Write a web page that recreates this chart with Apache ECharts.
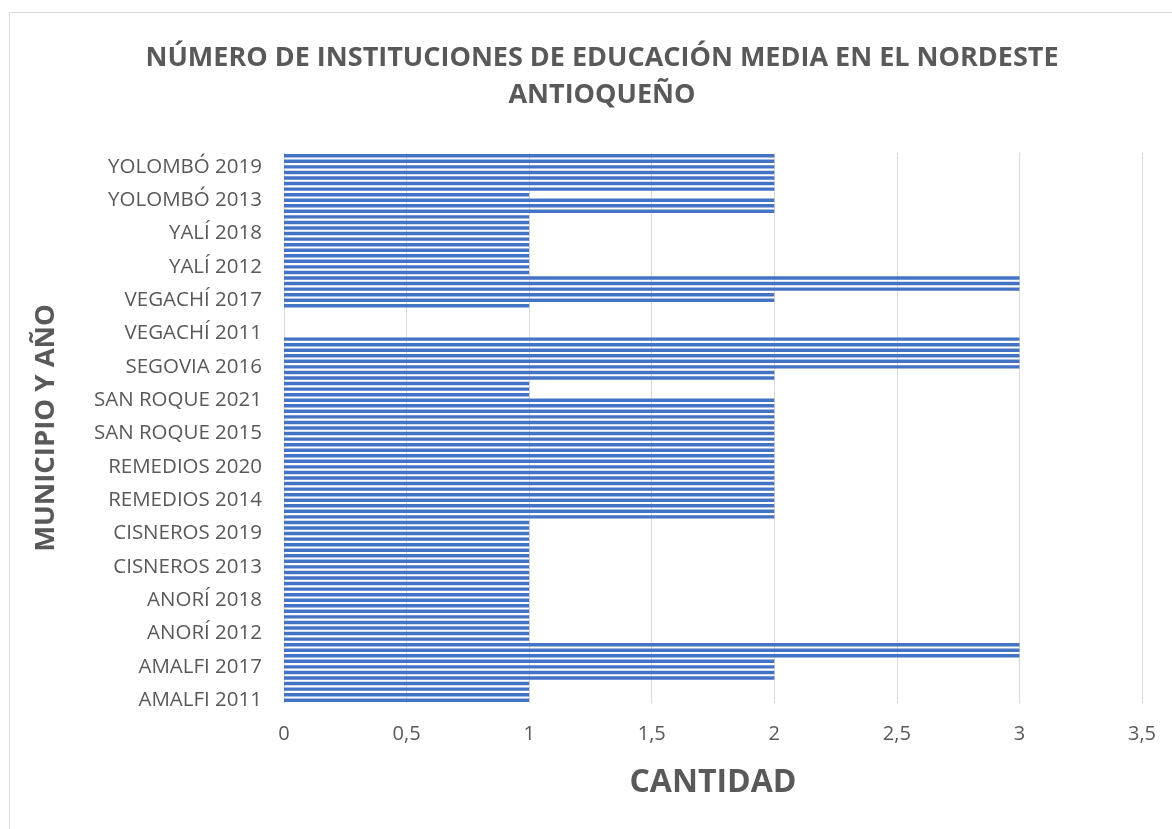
<!DOCTYPE html>
<html>
<head>
<meta charset="utf-8">
<script src="https://cdn.jsdelivr.net/npm/echarts@6/dist/echarts.min.js"></script>
<style>
  html, body { margin: 0; padding: 0; background: #ffffff; }
  #chart { position: relative; width: 1172px; height: 829px; }
  #frame { position: absolute; left: 9px; top: 12px; width: 1200px; height: 900px;
           border: 1px solid #d9d9d9; box-sizing: border-box; pointer-events: none; }
</style>
</head>
<body>
<div id="chart"></div>
<script>
// Municipios del Nordeste antioqueño y años del registro
const municipios = ['AMALFI', 'ANORÍ', 'CISNEROS', 'REMEDIOS', 'SAN ROQUE',
                    'SEGOVIA', 'VEGACHÍ', 'YALÍ', 'YOLOMBÓ'];
const anios = [2011, 2012, 2013, 2014, 2015, 2016, 2017, 2018, 2019, 2020, 2021];

// Número de instituciones de educación media por año (2011–2021)
const amalfi   = [1, 1, 1, 1, 2, 2, 2, 2, 3, 3, 3];
const anori    = [1, 1, 1, 1, 1, 1, 1, 1, 1, 1, 1];
const cisneros = [1, 1, 1, 1, 1, 1, 1, 1, 1, 1, 1];
const remedios = [2, 2, 2, 2, 2, 2, 2, 2, 2, 2, 2];
const sanRoque = [2, 2, 2, 2, 2, 2, 2, 2, 2, 2, 2];
const segovia  = [1, 1, 1, 2, 2, 3, 3, 3, 3, 3, 3];
const vegachi  = [0, 0, 0, 0, 0, 1, 2, 2, 3, 3, 3];
const yali     = [1, 1, 1, 1, 1, 1, 1, 1, 1, 1, 1];
const yolombo  = [2, 2, 2, 1, 2, 2, 2, 2, 2, 2, 2];

const valoresPorMunicipio = [amalfi, anori, cisneros, remedios, sanRoque,
                             segovia, vegachi, yali, yolombo];

// Ticks of the quantity axis
const ticksCantidad = [0, 0.5, 1, 1.5, 2, 2.5, 3, 3.5];

// Build "MUNICIPIO AÑO" categories and the matching values
const categorias = [];
const valores = [];
municipios.forEach((m, i) => {
  anios.forEach((a, j) => {
    categorias.push(m + ' ' + a);
    valores.push(valoresPorMunicipio[i][j]);
  });
});

const gris = '#595959';
const fuente = '"Open Sans", "Noto Sans", sans-serif';

const chart = echarts.init(document.getElementById('chart'), null, { renderer: 'canvas' });
chart.setOption({
  backgroundColor: '#ffffff',
  animation: false,
  title: {
    text: 'NÚMERO DE INSTITUCIONES DE EDUCACIÓN MEDIA EN EL NORDESTE\nANTIOQUEÑO',
    left: 597,
    textAlign: 'center',
    top: 35,
    textStyle: {
      fontFamily: fuente, fontSize: 27, fontWeight: 'bold',
      color: gris, lineHeight: 37
    }
  },
  grid: { left: 284, right: 30, top: 153, bottom: 126, containLabel: false },
  xAxis: {
    type: 'value',
    min: ticksCantidad[0],
    max: ticksCantidad[ticksCantidad.length - 1],
    interval: 0.5,
    name: 'CANTIDAD',
    nameLocation: 'middle',
    nameGap: 64,
    nameTextStyle: { fontFamily: fuente, fontSize: 32, fontWeight: 'bold', color: gris },
    axisLine: { show: false },
    axisTick: { show: false },
    splitLine: { show: true, lineStyle: { color: '#d9d9d9', width: 1 } },
    axisLabel: {
      margin: 21, fontFamily: fuente, fontSize: 20, color: gris,
      formatter: v => String(v).replace('.', ',')
    }
  },
  yAxis: {
    type: 'category',
    data: categorias,
    name: 'MUNICIPIO Y AÑO',
    nameLocation: 'middle',
    nameGap: 224,
    nameRotate: 90,
    nameTextStyle: { fontFamily: fuente, fontSize: 27.5, fontWeight: 'bold', color: gris },
    axisLine: { show: true, lineStyle: { color: '#d9d9d9', width: 1 } },
    axisTick: { show: false },
    axisLabel: {
      interval: 5, margin: 22, fontFamily: fuente, fontSize: 20.5, color: gris
    }
  },
  series: [{
    type: 'bar',
    data: valores,
    barCategoryGap: '38%',
    itemStyle: { color: '#4472c4' }
  }]
});
</script>
<div id="frame" style="position:absolute;"></div>
</body>
</html>
